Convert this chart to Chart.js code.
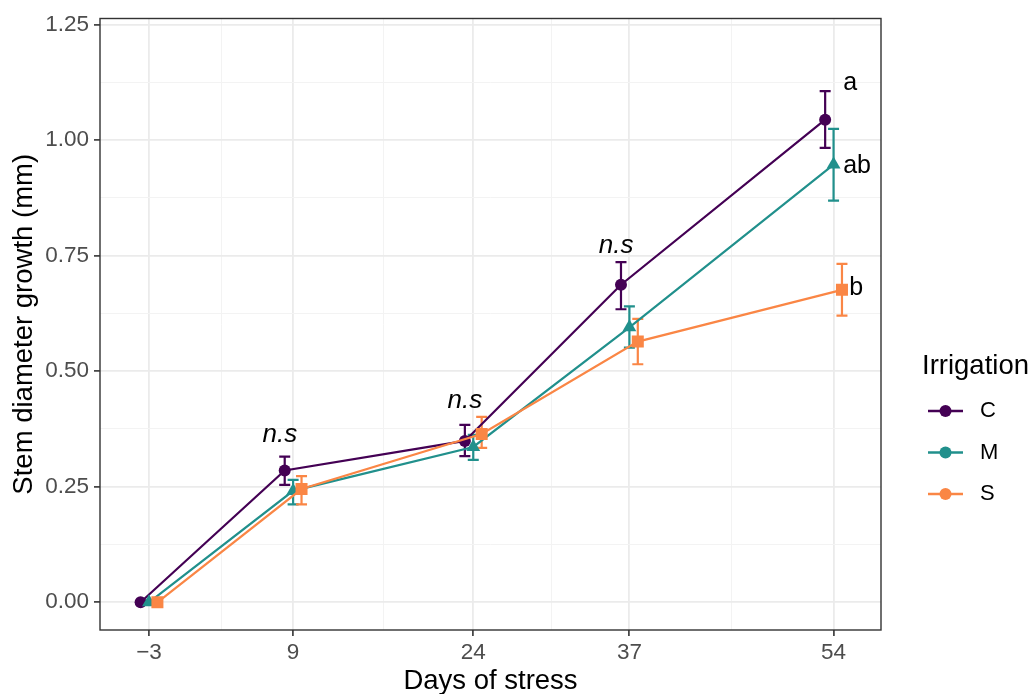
<!DOCTYPE html>
<html>
<head>
<meta charset="utf-8">
<script src="https://cdn.jsdelivr.net/npm/chart.js@4.4.0/dist/chart.umd.min.js"></script>
<style>
	html, body { margin: 0; padding: 0; background: #fff; }
</style>
</head>
<body>
<canvas id="growth-chart" width="1030" height="694"></canvas>
<script>
// Days of stress and the three irrigation treatments.
var days = [ -3, 9, 24, 37, 54 ];
var groups = [ 'C', 'M', 'S' ];
var colors = [ '#440154', '#21908C', '#FA8645' ];

// Mean stem diameter growth (mm) and error bar ends.
var meanC  = [ 0, 0.285, 0.349, 0.687, 1.044 ];
var lowC   = [ 0, 0.254, 0.316, 0.634, 0.983 ];
var highC  = [ 0, 0.315, 0.384, 0.736, 1.106 ];
var meanM  = [ 0, 0.241, 0.336, 0.595, 0.947 ];
var lowM   = [ 0, 0.212, 0.308, 0.551, 0.869 ];
var highM  = [ 0, 0.265, 0.362, 0.640, 1.024 ];
var meanS  = [ 0, 0.245, 0.364, 0.564, 0.676 ];
var lowS   = [ 0, 0.212, 0.334, 0.515, 0.620 ];
var highS  = [ 0, 0.273, 0.401, 0.613, 0.732 ];

// Tick values (majors get labels, the rest are minor grid lines).
var xMajor = [ -3, 9, 24, 37, 54 ];
var xTicks = [ -3, 3, 9, 16.5, 24, 30.5, 37, 45.5, 54 ];
var yTicks = [ 0, 0.125, 0.25, 0.375, 0.5, 0.625, 0.75, 0.875, 1, 1.125, 1.25 ];

// Significance labels.
var nsText = [ 'n.s', 'n.s', 'n.s' ];
var nsX    = [ 7.9, 23.3, 35.9 ];
var nsY    = [ 0.362, 0.437, 0.772 ];
var letterText = [ 'a', 'ab', 'b' ];
var letterX    = [ 54.8, 54.8, 55.3 ];
var letterY    = [ 1.123, 0.944, 0.680 ];

var FONT = '"Liberation Sans", Arial, sans-serif';
var DODGE = 0.7;

function isMajorX( v ) { return xMajor.indexOf( v ) >= 0; }
function isMajorY( v ) { return Math.abs( v * 4 - Math.round( v * 4 ) ) < 1e-6; }

function points( means, shift ) {
	return days.map( function ( d, i ) { return { x: d + shift, y: means[ i ] }; } );
}

var errorBars = {
	id: 'errorBars',
	beforeDatasetsDraw: function ( chart ) {
		var ctx = chart.ctx;
		var xs = chart.scales.x;
		var ys = chart.scales.y;
		chart.data.datasets.forEach( function ( ds ) {
			ctx.save();
			ctx.strokeStyle = ds.borderColor;
			ctx.lineWidth = 2.2;
			ds.data.forEach( function ( pt, j ) {
				var px = xs.getPixelForValue( pt.x );
				var lo = ys.getPixelForValue( ds.lower[ j ] );
				var hi = ys.getPixelForValue( ds.upper[ j ] );
				ctx.beginPath();
				ctx.moveTo( px, lo ); ctx.lineTo( px, hi );
				ctx.moveTo( px - 5.5, lo ); ctx.lineTo( px + 5.5, lo );
				ctx.moveTo( px - 5.5, hi ); ctx.lineTo( px + 5.5, hi );
				ctx.stroke();
			} );
			ctx.restore();
		} );
	}
};

var labelsAndLegend = {
	id: 'labelsAndLegend',
	afterDraw: function ( chart ) {
		var ctx = chart.ctx;
		var xs = chart.scales.x;
		var ys = chart.scales.y;
		var area = chart.chartArea;

		// Panel border.
		ctx.save();
		ctx.strokeStyle = '#333333';
		ctx.lineWidth = 1.4;
		ctx.strokeRect( area.left, area.top, area.right - area.left, area.bottom - area.top );

		// n.s labels and letters.
		ctx.fillStyle = '#000';
		ctx.textBaseline = 'middle';
		ctx.textAlign = 'center';
		ctx.font = 'italic 26px ' + FONT;
		nsText.forEach( function ( t, i ) {
			ctx.fillText( t, xs.getPixelForValue( nsX[ i ] ), ys.getPixelForValue( nsY[ i ] ) );
		} );
		ctx.textAlign = 'left';
		ctx.font = '25px ' + FONT;
		letterText.forEach( function ( t, i ) {
			ctx.fillText( t, xs.getPixelForValue( letterX[ i ] ), ys.getPixelForValue( letterY[ i ] ) );
		} );

		// Legend.
		ctx.font = '27.5px ' + FONT;
		ctx.fillText( 'Irrigation', 922, 366 );
		ctx.font = '22px ' + FONT;
		groups.forEach( function ( g, i ) {
			var y = 411 + i * 41.5;
			ctx.strokeStyle = colors[ i ];
			ctx.lineWidth = 2.6;
			ctx.beginPath();
			ctx.moveTo( 928, y ); ctx.lineTo( 963, y );
			ctx.stroke();
			ctx.fillStyle = colors[ i ];
			ctx.beginPath();
			ctx.arc( 945.5, y, 6, 0, Math.PI * 2 );
			ctx.fill();
			ctx.fillStyle = '#000';
			ctx.fillText( g, 980, y );
		} );
		ctx.restore();
	}
};

function dataset( label, means, low, high, shift, color, style, radius, order ) {
	return {
		label: label,
		data: points( means, shift ),
		lower: low,
		upper: high,
		borderColor: color,
		backgroundColor: color,
		borderWidth: 2.2,
		tension: 0,
		pointStyle: style,
		pointRadius: radius,
		pointBorderWidth: 0,
		pointBackgroundColor: color,
		order: order
	};
}

var canvas = document.getElementById( 'growth-chart' );
new Chart( canvas.getContext( '2d' ), {
	type: 'line',
	data: {
		datasets: [
			dataset( 'C', meanC, lowC, highC, -DODGE, colors[ 0 ], 'circle', 6, 3 ),
			dataset( 'M', meanM, lowM, highM, 0, colors[ 1 ], 'triangle', 8, 2 ),
			dataset( 'S', meanS, lowS, highS, DODGE, colors[ 2 ], 'rect', 8.5, 1 )
		]
	},
	options: {
		responsive: false,
		animation: false,
		layout: { padding: { top: 15, right: 149, left: 0, bottom: 0 } },
		plugins: {
			legend: { display: false },
			tooltip: { enabled: false }
		},
		scales: {
			x: {
				type: 'linear',
				min: -7.08,
				max: 57.95,
				afterBuildTicks: function ( scale ) {
					scale.ticks = xTicks.map( function ( v ) { return { value: v }; } );
				},
				afterFit: function ( scale ) { scale.height = 64; },
				border: { display: false },
				grid: {
					color: function ( c ) { return c.tick && isMajorX( c.tick.value ) ? '#EBEBEB' : '#F3F3F3'; },
					lineWidth: function ( c ) { return c.tick && isMajorX( c.tick.value ) ? 1.8 : 1; },
					tickColor: function ( c ) { return c.tick && isMajorX( c.tick.value ) ? '#333333' : 'rgba(0,0,0,0)'; },
					tickWidth: 1.6,
					tickLength: 6
				},
				ticks: {
					autoSkip: false,
					maxRotation: 0,
					padding: 3,
					color: '#4D4D4D',
					font: { family: FONT, size: 22.5 },
					callback: function ( v ) {
						if ( ! isMajorX( v ) ) { return ''; }
						return v < 0 ? '\u2212' + Math.abs( v ) : String( v );
					}
				},
				title: {
					display: true,
					text: 'Days of stress',
					color: '#000',
					font: { family: FONT, size: 27.5, lineHeight: 1 },
					padding: { top: 0, bottom: -1 }
				}
			},
			y: {
				type: 'linear',
				min: -0.06,
				max: 1.263,
				afterBuildTicks: function ( scale ) {
					scale.ticks = yTicks.map( function ( v ) { return { value: v }; } );
				},
				afterFit: function ( scale ) { scale.width = 100; },
				border: { display: false },
				grid: {
					color: function ( c ) { return c.tick && isMajorY( c.tick.value ) ? '#EBEBEB' : '#F3F3F3'; },
					lineWidth: function ( c ) { return c.tick && isMajorY( c.tick.value ) ? 1.8 : 1; },
					tickColor: function ( c ) { return c.tick && isMajorY( c.tick.value ) ? '#333333' : 'rgba(0,0,0,0)'; },
					tickWidth: 1.6,
					tickLength: 6
				},
				ticks: {
					autoSkip: false,
					padding: 5,
					color: '#4D4D4D',
					font: { family: FONT, size: 22.5 },
					callback: function ( v ) { return isMajorY( v ) ? v.toFixed( 2 ) : ''; }
				},
				title: {
					display: true,
					text: 'Stem diameter growth (mm)',
					color: '#000',
					font: { family: FONT, size: 27.5, lineHeight: 1 },
					padding: { top: 11, bottom: 0 }
				}
			}
		}
	},
	plugins: [ errorBars, labelsAndLegend ]
} );
</script>
</body>
</html>
